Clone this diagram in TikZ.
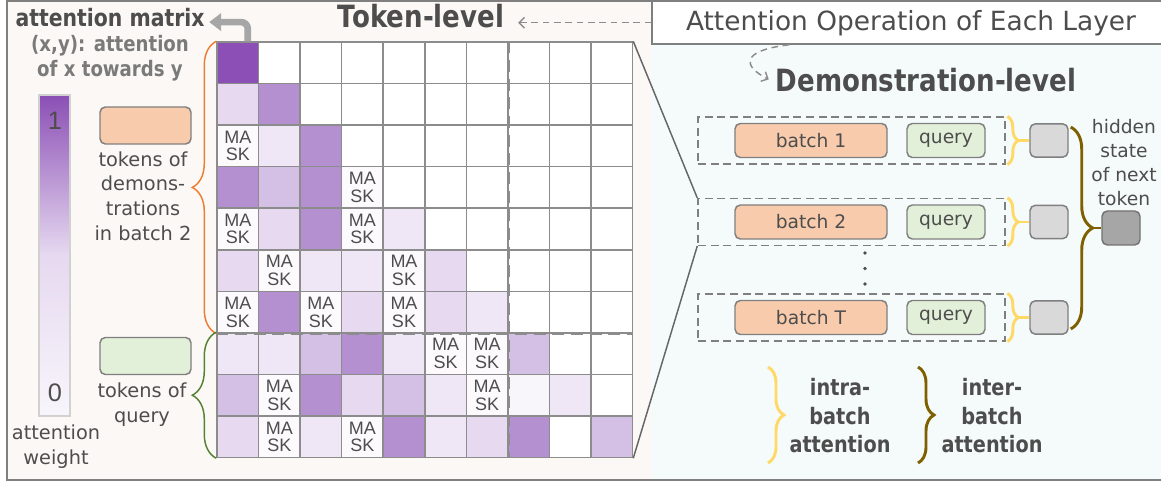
\documentclass[tikz,border=0pt]{standalone}
\usepackage{fontspec}
\setmainfont{DejaVu Sans}[BoldFeatures={FakeStretch=0.85}]
\newfontfamily\arialfont{Liberation Sans}
\usetikzlibrary{calc}
\usetikzlibrary{arrows.meta}
\usetikzlibrary{decorations.pathreplacing}

\definecolor{txtgray}{HTML}{4D4D4D}
\definecolor{subgray}{HTML}{7A7A7A}
\definecolor{gridgray}{HTML}{8C8C8C}
\definecolor{boxgray}{HTML}{7F7F7F}
\definecolor{arrowgray}{HTML}{A6A6A6}
\definecolor{att5}{HTML}{8B4FB5}
\definecolor{att4}{HTML}{B590D1}
\definecolor{att3}{HTML}{D4C0E4}
\definecolor{att2}{HTML}{E6D9F0}
\definecolor{att1}{HTML}{EFE6F6}
\definecolor{atth}{HTML}{F8F5FB}
\definecolor{maskfill}{HTML}{FCFAFD}
\definecolor{demofill}{HTML}{F8CBAD}
\definecolor{queryfill}{HTML}{E2F0D9}
\definecolor{leftbg}{HTML}{FCF8F5}
\definecolor{rightbg}{HTML}{F5FBFB}
\definecolor{intracol}{HTML}{FFD966}
\definecolor{intercol}{HTML}{7F6000}
\definecolor{democol}{HTML}{ED7D31}
\definecolor{querycol}{HTML}{548235}
\definecolor{hidfill}{HTML}{D9D9D9}
\definecolor{nextfill}{HTML}{A6A6A6}

\tikzset{
  cell/.style={draw=gridgray, line width=1.1pt, minimum size=31.16pt, inner sep=0pt},
  v0/.style={fill=white}, vh/.style={fill=atth}, vm/.style={fill=maskfill},
  v1/.style={fill=att1}, v2/.style={fill=att2}, v3/.style={fill=att3},
  v4/.style={fill=att4}, v5/.style={fill=att5},
  masktxt/.style={font=\arialfont\fontsize{13.5}{13.2}\selectfont, text=txtgray, align=center, inner sep=0pt},
  heading/.style={font=\bfseries\fontsize{23}{28}\selectfont, text=txtgray, anchor=base},
  note/.style={font=\fontsize{14.5}{18.4}\selectfont, text=txtgray, align=center},
  legend/.style={font=\bfseries\fontsize{17}{21.4}\selectfont, text=txtgray, align=center},
  blk/.style={draw=boxgray, line width=1.1pt, rounded corners=4pt, inner sep=0pt},
  groupbox/.style={draw=boxgray, line width=1.1pt, dash pattern=on 6pt off 3.5pt,
    minimum width=230.25pt, minimum height=35pt, inner sep=0pt},
  hidbox/.style={blk, fill=hidfill, minimum width=28.5pt, minimum height=25pt},
  dashline/.style={draw=gridgray, line width=1.1pt, dash pattern=on 5pt off 3.5pt},
  matdash/.style={draw=gridgray, line width=2.2pt, dash pattern=on 9pt off 5pt},
  curly/.style={decorate, decoration={brace, amplitude=#1}},
  intrabrace/.style={draw=intracol, line width=2.2pt},
  interbrace/.style={draw=intercol, line width=2.2pt},
}

\begin{document}
\begin{tikzpicture}[x=0.75pt, y=-0.75pt]
    \useasboundingbox (0,0) rectangle (1161,481);
    \fill[leftbg] (7,1.5) rectangle (651,479.5);
    \fill[rightbg] (651,1.5) rectangle (1175,479.5);
    \draw[boxgray, line width=1.5pt] (7,1.5) rectangle (1175,479.5);

    % attention matrix
    \foreach \row [count=\i from 0] in {
        {5,0,0,0,0,0,0,0,0,0},
        {2,4,0,0,0,0,0,0,0,0},
        {m,1,4,0,0,0,0,0,0,0},
        {4,3,4,m,0,0,0,0,0,0},
        {m,2,4,m,1,0,0,0,0,0},
        {2,m,1,1,m,2,0,0,0,0},
        {m,4,m,2,m,2,1,0,0,0},
        {1,1,3,4,1,m,m,3,0,0},
        {3,m,4,2,3,1,m,h,1,0},
        {2,m,1,m,4,1,2,4,0,3}}
      \foreach \v [count=\j from 0] in \row
        \node[cell, v\v] (c\i\j) at ({237.8+41.55*\j},{62.8+41.55*\i}) {};
    \foreach \i/\j in {2/0,3/3,4/0,4/3,5/1,5/4,6/0,6/2,6/4,7/5,7/6,8/1,8/6,9/1,9/3}
      \node[masktxt] (mask\i\j) at (c\i\j) {MA\\SK};
    \draw[matdash] (c06.north east) -- (c96.south east);
    \draw[matdash] (c60.south west) -- (c69.south east);

    % left legend
    \node[font=\bfseries\fontsize{18}{22}\selectfont, text=txtgray, anchor=base] (attmat) at (110,26.5) {attention matrix};
    \node[font=\bfseries\fontsize{16}{18.75}\selectfont, text=subgray, align=center] (attdef) at (110,58) {(x,y): attention\\of x towards y};
    \draw[draw=arrowgray, line width=5pt, rounded corners=5pt, -{Triangle[length=9pt, width=13pt]}]
      ([xshift=7.5pt]c00.north) |- ([yshift=-3.4pt]attmat.east);
    \node[draw=black!18, line width=0.8pt, minimum width=23.25pt, minimum height=240.75pt, inner sep=0pt,
      top color=att5, bottom color=atth, middle color=att2] (bar) at (54.5,255.5) {};
    \node[font=\arialfont\fontsize{19}{22}\selectfont, text=txtgray] (one) at (55,121) {1};
    \node[font=\arialfont\fontsize{19}{22}\selectfont, text=txtgray] (zero) at (55,393) {0};
    \node[note] (weight) at (56,446.5) {attention\\weight};
    \node[blk, fill=demofill, minimum width=68.25pt, minimum height=27.75pt] (demokey) at (145.5,125.5) {};
    \node[note] (demotxt) at (143,196) {tokens of\\demons-\\trations\\in batch 2};
    \node[blk, fill=queryfill, minimum width=68.25pt, minimum height=27.75pt] (querykey) at (145.5,356) {};
    \node[note] (querytxt) at (142,404.5) {tokens of\\query};
    \draw[democol, line width=1.1pt, curly=18pt] (c60.south west) -- (c00.north west);
    \draw[querycol, line width=1.1pt, curly=18pt] (c90.south west) -- (c70.north west);

    % titles
    \node[draw=boxgray, line width=1.1pt, fill=white, minimum width=388.5pt, minimum height=31.9pt, inner sep=0pt,
      font=\fontsize{19.8}{24}\selectfont, text=txtgray] (aolbox) at (911,22.75) {Attention Operation of Each Layer};
    \node[heading] (token) at (421,28) {Token-level};
    \node[heading] (demo) at (926,92) {Demonstration-level};
    \draw[dashline, -{Straight Barb[length=4pt, width=8pt]}, shorten >=7pt] (aolbox.west) -- (aolbox.west -| token.east);
    \draw[dashline, -{Straight Barb[length=4pt, width=8pt]}, shorten >=2pt]
      ($(aolbox.south west)+(138,0)$) .. controls +(-50,6) and +(-28,-14) .. (demo.west);

    % demonstration-level batches
    \foreach \k/\lab/\y in {1/{batch 1}/140.5, 2/{batch 2}/222, T/{batch T}/317.5} {
      \node[groupbox] (grp\k) at (851.5,\y) {};
      \node[blk, fill=demofill, minimum width=114pt, minimum height=25.5pt,
        font=\fontsize{14}{16}\selectfont, text=txtgray] (batch\k) at (811,\y) {\lab};
      \node[blk, fill=queryfill, minimum width=58.5pt, minimum height=25.5pt,
        font=\fontsize{14}{16}\selectfont, text=txtgray] (query\k) at (946,\y) {query};
      \node[hidbox] (hid\k) at (1049,\y) {};
      \draw[intrabrace, curly=8.25pt] ([xshift=1.2pt]grp\k.north east) -- ([xshift=1.2pt]grp\k.south east);
      \draw[intrabrace] (hid\k.west) -- ++(-12.5,0);
    }
    \draw[black!60, line width=1.1pt] (c09.north east) -- (grp2.north west);
    \draw[black!60, line width=1.1pt] (c99.south east) -- (grp2.south west);
    \foreach \d in {253,268.5,284}
      \fill[txtgray] (865,\d) circle (1.4pt);

    \node[blk, fill=nextfill, draw=black!55, minimum width=28.5pt, minimum height=25.5pt] (next) at (1121,228) {};
    \draw[interbrace, curly=16.5pt] ($(hid1.north east)+(2,4)$) -- ($(hidT.south east)+(2,-6)$);
    \draw[interbrace] (next.west) -- ++(-10,0);
    \node[note, font=\fontsize{14}{18}\selectfont] (hidtxt) at (1124,163) {hidden\\state\\of next\\token};

    % brace legend
    \draw[intrabrace, curly=12pt] (768,367) -- (768,463);
    \node[legend] (intratxt) at (840,416) {intra-\\batch\\attention};
    \draw[interbrace, curly=12pt] (918,367) -- (918,463);
    \node[legend] (intertxt) at (992,416) {inter-\\batch\\attention};
\end{tikzpicture}
\end{document}
